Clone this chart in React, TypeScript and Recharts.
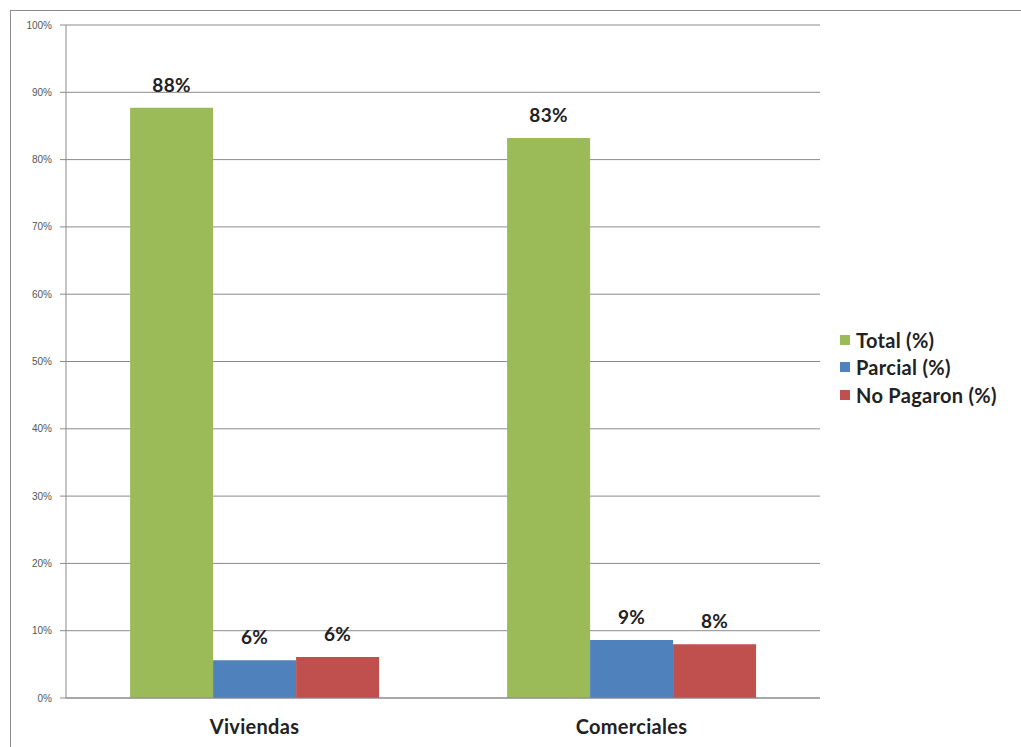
import React from "react";
import {
  BarChart,
  Bar,
  XAxis,
  YAxis,
  CartesianGrid,
  Legend,
  LabelList,
} from "recharts";

const categories = ["Viviendas", "Comerciales"];
const totalPct = [87.7, 83.2];
const parcialPct = [5.6, 8.6];
const noPagaronPct = [6.1, 8.0];
const yTicks = [0, 10, 20, 30, 40, 50, 60, 70, 80, 90, 100];

const series = [
  { key: "total", name: "Total (%)", color: "#9BBB59" },
  { key: "parcial", name: "Parcial (%)", color: "#4F81BD" },
  { key: "noPagaron", name: "No Pagaron (%)", color: "#C0504D" },
];

const data = categories.map((c, i) => ({
  name: c,
  total: totalPct[i],
  parcial: parcialPct[i],
  noPagaron: noPagaronPct[i],
}));

const boldFont = "Lato, 'Open Sans', sans-serif";

function LegendBox() {
  return (
    <div style={{ fontFamily: boldFont, fontWeight: 700, fontSize: 20, color: "#222", letterSpacing: 0.3 }}>
      {series.map((s) => (
        <div key={s.key} style={{ display: "flex", alignItems: "center", height: 27.5, whiteSpace: "nowrap" }}>
          <span
            style={{
              display: "inline-block",
              width: 10,
              height: 10,
              background: s.color,
              marginRight: 6,
            }}
          />
          {s.name}
        </div>
      ))}
    </div>
  );
}

export default function App() {
  return (
    <div style={{ position: "absolute", left: 0, top: 0, width: 1021, height: 747, background: "#fff", overflow: "hidden" }}>
      <div
        style={{
          position: "absolute",
          left: 10,
          top: 10,
          width: 1030,
          height: 760,
          border: "1px solid #8a8a8a",
        }}
      />
      <BarChart
        width={1021}
        height={747}
        data={data}
        margin={{ top: 25, right: 201, bottom: 0, left: 0 }}
        barCategoryGap="17%"
        barGap={0}
        style={{ position: "absolute", left: 0, top: 0 }}
      >
        <CartesianGrid vertical={false} stroke="#8a8a8a" />
        <XAxis
          dataKey="name"
          height={49}
          axisLine={{ stroke: "#8a8a8a" }}
          tickLine={false}
          tickMargin={16}
          tick={{ fontFamily: boldFont, fontWeight: 700, fontSize: 20, fill: "#222", letterSpacing: 0.3 }}
        />
        <YAxis
          width={66}
          domain={[0, 100]}
          ticks={yTicks}
          tickFormatter={(v: number) => `${v}%`}
          axisLine={{ stroke: "#8a8a8a" }}
          tickLine={{ stroke: "#8a8a8a" }}
          tickMargin={8}
          tick={{ fontFamily: "'Liberation Sans Narrow', 'Liberation Sans', sans-serif", fontSize: 10, fill: "#555" }}
        />
        <Legend
          layout="vertical"
          align="center"
          verticalAlign="middle"
          wrapperStyle={{ left: 840, top: 326, width: 180 }}
          content={() => <LegendBox />}
        />
        {series.map((s) => (
          <Bar key={s.key} dataKey={s.key} name={s.name} fill={s.color} isAnimationActive={false}>
            <LabelList
              dataKey={s.key}
              position="top"
              offset={16}
              formatter={(v: any) => `${Math.round(Number(v))}%`}
              style={{ fontFamily: boldFont, fontWeight: 700, fontSize: 19, fill: "#222", letterSpacing: 0.3 }}
            />
          </Bar>
        ))}
      </BarChart>
    </div>
  );
}
